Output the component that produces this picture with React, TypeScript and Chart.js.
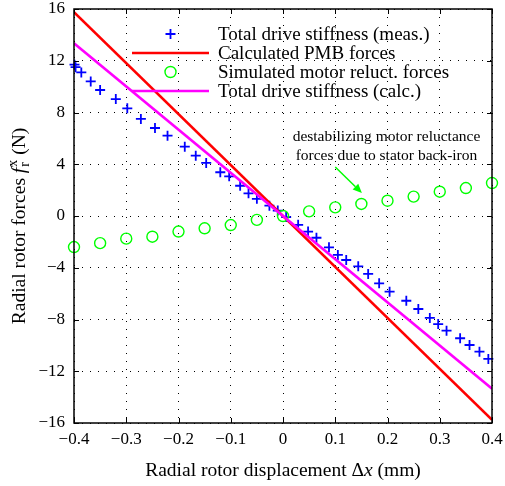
import React, { useEffect, useRef } from "react";
import { Chart, registerables } from "chart.js";

Chart.register(...registerables);

// ---- data ----
const measX = [-0.399, -0.397, -0.386, -0.368, -0.350, -0.320, -0.298, -0.272, -0.245, -0.221, -0.188, -0.167, -0.147, -0.120, -0.103, -0.082, -0.066, -0.050, -0.026, -0.010, 0.006, 0.029, 0.048, 0.064, 0.088, 0.105, 0.121, 0.144, 0.163, 0.184, 0.204, 0.236, 0.259, 0.281, 0.297, 0.313, 0.339, 0.357, 0.376, 0.393];
const measY = [11.7, 11.5, 11.1, 10.4, 9.74, 9.04, 8.32, 7.5, 6.8, 6.21, 5.36, 4.66, 4.1, 3.38, 3.07, 2.34, 1.75, 1.33, 0.8, 0.42, -0.08, -0.68, -1.2, -1.68, -2.42, -3.01, -3.4, -3.89, -4.48, -5.2, -5.85, -6.55, -7.19, -7.88, -8.35, -8.86, -9.45, -9.97, -10.49, -11.05];

const simX = [-0.4, -0.35, -0.3, -0.25, -0.2, -0.15, -0.1, -0.05, 0, 0.05, 0.1, 0.15, 0.2, 0.25, 0.3, 0.35, 0.4];
const simY = [-2.4, -2.1, -1.75, -1.6, -1.2, -0.95, -0.7, -0.3, 0, 0.36, 0.67, 0.93, 1.18, 1.5, 1.88, 2.16, 2.55];

const pmbX = [-0.4, 0.4];
const pmbY = [15.75, -15.75];

const calcX = [-0.4, 0.4];
const calcY = [13.35, -13.35];

const xTicks = [-0.4, -0.3, -0.2, -0.1, 0, 0.1, 0.2, 0.3, 0.4];
const yTicks = [-16, -12, -8, -4, 0, 4, 8, 12, 16];

const seriesNames = [
  "Total drive stiffness (meas.)",
  "Calculated PMB forces",
  "Simulated motor reluct. forces",
  "Total drive stiffness (calc.)",
];

const noteLines = ["destabilizing motor reluctance", "forces due to stator back-iron"];
const noteTextAt = { x: 0.198, y: [6.1, 4.64] };
const arrowFrom = { x: 0.1, y: 3.79 };
const arrowTo = { x: 0.151, y: 1.78 };

// ---- styles ----
const SERIF = "'Liberation Serif', 'Times New Roman', serif";
const BLUE = "#0000ff";
const RED = "#ff0000";
const GREEN = "#00ff00";
const MAGENTA = "#ff00ff";

const fmt = (v: number, d: number) => {
  const s = Math.abs(v).toFixed(d);
  if (Math.abs(v) < 1e-9) return "0";
  return (v < 0 ? "\u2212" : "") + s;
};

const pts = (xs: number[], ys: number[]) => xs.map((x, i) => ({ x, y: ys[i] }));

const overlayPlugin = {
  id: "overlay",
  afterDraw(chart: any) {
    const { ctx, chartArea: a, scales } = chart;
    const xs = scales.x;
    const ys = scales.y;
    ctx.save();

    // frame
    ctx.strokeStyle = "#000";
    ctx.lineWidth = 1.5;
    ctx.strokeRect(a.left, a.top, a.right - a.left, a.bottom - a.top);

    // inward ticks
    ctx.lineWidth = 1;
    const tl = 5;
    ctx.beginPath();
    xTicks.forEach((v) => {
      const px = Math.round(xs.getPixelForValue(v)) + 0.5;
      ctx.moveTo(px, a.top);
      ctx.lineTo(px, a.top + tl);
      ctx.moveTo(px, a.bottom);
      ctx.lineTo(px, a.bottom - tl);
    });
    yTicks.forEach((v) => {
      const py = Math.round(ys.getPixelForValue(v)) + 0.5;
      ctx.moveTo(a.left, py);
      ctx.lineTo(a.left + tl, py);
      ctx.moveTo(a.right, py);
      ctx.lineTo(a.right - tl, py);
    });
    ctx.stroke();

    // legend
    const rowY = [a.top + 25, a.top + 44, a.top + 63, a.top + 82];
    const sx0 = a.left + 58;
    const sx1 = a.left + 135;
    const mx = (sx0 + sx1) / 2;
    const tx = a.left + 144;
    // row 1: cross
    ctx.strokeStyle = BLUE;
    ctx.lineWidth = 1.8;
    ctx.beginPath();
    ctx.moveTo(mx - 5, rowY[0]);
    ctx.lineTo(mx + 5, rowY[0]);
    ctx.moveTo(mx, rowY[0] - 5);
    ctx.lineTo(mx, rowY[0] + 5);
    ctx.stroke();
    // row 2: red line
    ctx.strokeStyle = RED;
    ctx.lineWidth = 2.5;
    ctx.beginPath();
    ctx.moveTo(sx0, rowY[1]);
    ctx.lineTo(sx1, rowY[1]);
    ctx.stroke();
    // row 3: circle
    ctx.strokeStyle = GREEN;
    ctx.lineWidth = 1.4;
    ctx.beginPath();
    ctx.arc(mx, rowY[2], 5.5, 0, Math.PI * 2);
    ctx.stroke();
    // row 4: magenta line
    ctx.strokeStyle = MAGENTA;
    ctx.lineWidth = 2.5;
    ctx.beginPath();
    ctx.moveTo(sx0, rowY[3]);
    ctx.lineTo(sx1, rowY[3]);
    ctx.stroke();

    ctx.fillStyle = "#000";
    ctx.font = `19px ${SERIF}`;
    ctx.textAlign = "left";
    ctx.textBaseline = "middle";
    seriesNames.forEach((n, i) => ctx.fillText(n, tx, rowY[i] + 1));

    // annotation text
    ctx.font = `15.5px ${SERIF}`;
    ctx.textAlign = "center";
    const ncx = xs.getPixelForValue(noteTextAt.x);
    noteLines.forEach((l, i) => ctx.fillText(l, ncx, ys.getPixelForValue(noteTextAt.y[i])));

    // arrow
    const ax0 = xs.getPixelForValue(arrowFrom.x);
    const ay0 = ys.getPixelForValue(arrowFrom.y);
    const ax1 = xs.getPixelForValue(arrowTo.x);
    const ay1 = ys.getPixelForValue(arrowTo.y);
    const ang = Math.atan2(ay1 - ay0, ax1 - ax0);
    const hl = 9;
    const hw = 4;
    const bx = ax1 - hl * Math.cos(ang);
    const by = ay1 - hl * Math.sin(ang);
    ctx.strokeStyle = GREEN;
    ctx.fillStyle = GREEN;
    ctx.lineWidth = 1.5;
    ctx.beginPath();
    ctx.moveTo(ax0, ay0);
    ctx.lineTo(bx, by);
    ctx.stroke();
    ctx.beginPath();
    ctx.moveTo(ax1, ay1);
    ctx.lineTo(bx - hw * Math.sin(ang), by + hw * Math.cos(ang));
    ctx.lineTo(bx + hw * Math.sin(ang), by - hw * Math.cos(ang));
    ctx.closePath();
    ctx.fill();

    // x title
    ctx.fillStyle = "#000";
    ctx.textAlign = "left";
    ctx.textBaseline = "alphabetic";
    const xSegs = [
      { t: "Radial rotor displacement ", f: `19.5px ${SERIF}` },
      { t: "\u0394", f: `19.5px ${SERIF}` },
      { t: "x", f: `italic 19.5px ${SERIF}` },
      { t: " (mm)", f: `19.5px ${SERIF}` },
    ];
    let tw = 0;
    xSegs.forEach((s) => {
      ctx.font = s.f;
      tw += ctx.measureText(s.t).width;
    });
    let cx = (a.left + a.right) / 2 - tw / 2;
    const base = 476;
    xSegs.forEach((s) => {
      ctx.font = s.f;
      ctx.fillText(s.t, cx, base);
      cx += ctx.measureText(s.t).width;
    });

    // y title (rotated)
    ctx.save();
    ctx.translate(25, (a.top + a.bottom) / 2 + 10);
    ctx.rotate(-Math.PI / 2);
    const main1 = "Radial rotor forces ";
    const fi = "f";
    const sub = "r";
    const sup = "x";
    const main2 = " (N)";
    const fN = `19.5px ${SERIF}`;
    const fI = `italic 19.5px ${SERIF}`;
    const fS = `14px ${SERIF}`;
    ctx.font = fN;
    const w1 = ctx.measureText(main1).width;
    const w4 = ctx.measureText(main2).width;
    ctx.font = fI;
    const w2 = ctx.measureText(fi).width + 1;
    ctx.font = fS;
    const w3 = Math.max(ctx.measureText(sub).width, ctx.measureText(sup).width);
    const total = w1 + w2 + w3 + w4;
    let p = -total / 2;
    ctx.font = fN;
    ctx.fillText(main1, p, 0);
    p += w1;
    ctx.font = fI;
    ctx.fillText(fi, p, 0);
    p += w2;
    ctx.font = fS;
    ctx.fillText(sub, p, 4);
    ctx.fillText(sup, p, -8);
    p += w3;
    ctx.font = fN;
    ctx.fillText(main2, p, 0);
    ctx.restore();

    ctx.restore();
  },
};

export default function App() {
  const ref = useRef<HTMLCanvasElement | null>(null);

  useEffect(() => {
    if (!ref.current) return;
    const chart = new Chart(ref.current, {
      type: "scatter",
      data: {
        datasets: [
          {
            label: seriesNames[0],
            data: pts(measX, measY),
            showLine: false,
            pointStyle: "cross",
            pointRadius: 5,
            pointBorderWidth: 1.8,
            borderColor: BLUE,
            backgroundColor: BLUE,
            clip: false as any,
            order: 4,
          },
          {
            label: seriesNames[1],
            data: pts(pmbX, pmbY),
            showLine: true,
            pointRadius: 0,
            borderColor: RED,
            borderWidth: 2.5,
            order: 3,
          },
          {
            label: seriesNames[2],
            data: pts(simX, simY),
            showLine: false,
            pointStyle: "circle",
            pointRadius: 5.5,
            pointBorderWidth: 1.4,
            borderColor: GREEN,
            backgroundColor: "rgba(0,0,0,0)",
            clip: false as any,
            order: 2,
          },
          {
            label: seriesNames[3],
            data: pts(calcX, calcY),
            showLine: true,
            pointRadius: 0,
            borderColor: MAGENTA,
            borderWidth: 2.5,
            order: 1,
          },
        ],
      },
      options: {
        responsive: false,
        animation: false,
        events: [],
        layout: { padding: { top: 9, right: 13, left: 0, bottom: 0 } },
        plugins: {
          legend: { display: false },
          tooltip: { enabled: false },
        },
        scales: {
          x: {
            type: "linear",
            min: -0.4,
            max: 0.4,
            afterBuildTicks: (s: any) => {
              s.ticks = xTicks.map((v) => ({ value: v }));
            },
            afterFit: (s: any) => {
              s.height = 63;
              s.paddingLeft = 0;
              s.paddingRight = 0;
              s.paddingTop = 0;
              s.paddingBottom = 0;
            },
            ticks: {
              autoSkip: false,
              maxRotation: 0,
              padding: 8,
              color: "#000",
              font: { family: SERIF, size: 17, lineHeight: 1 },
              callback: (v: any) => fmt(Number(v), 1),
            },
            grid: { color: "#000", lineWidth: 1, drawTicks: false },
            border: { display: false, dash: [1, 7] },
          },
          y: {
            type: "linear",
            min: -16,
            max: 16,
            afterBuildTicks: (s: any) => {
              s.ticks = yTicks.map((v) => ({ value: v }));
            },
            afterFit: (s: any) => {
              s.width = 74;
              s.paddingLeft = 0;
              s.paddingRight = 0;
              s.paddingTop = 0;
              s.paddingBottom = 0;
            },
            ticks: {
              autoSkip: false,
              padding: 9,
              color: "#000",
              font: { family: SERIF, size: 17, lineHeight: 1 },
              callback: (v: any) => fmt(Number(v), 0),
            },
            grid: { color: "#000", lineWidth: 1, drawTicks: false },
            border: { display: false, dash: [1, 7] },
          },
        },
      },
      plugins: [overlayPlugin],
    });
    return () => chart.destroy();
  }, []);

  return (
    <div style={{ position: "fixed", left: 0, top: 0, width: 505, height: 486, background: "#fff" }}>
      <canvas ref={ref} width={505} height={486} style={{ display: "block" }} />
    </div>
  );
}
